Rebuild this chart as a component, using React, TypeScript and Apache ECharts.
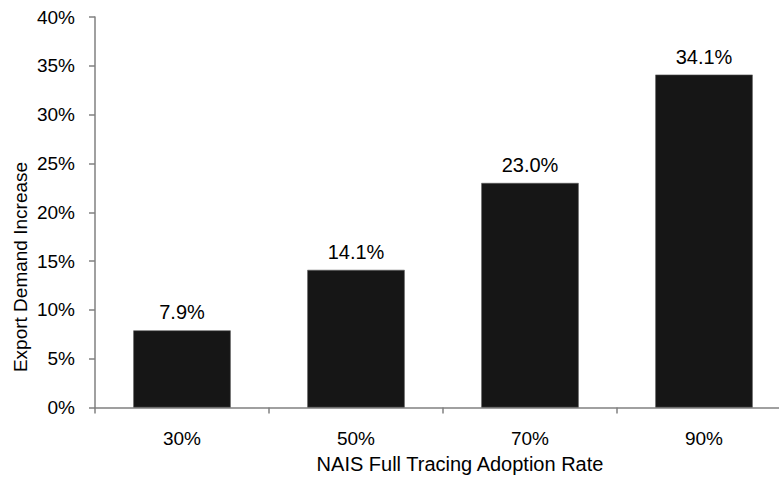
import React, { useEffect, useRef } from "react";
import * as echarts from "echarts";

const categories = ["30%", "50%", "70%", "90%"];
const values = [7.9, 14.1, 23.0, 34.1];
const yTicks = { min: 0, max: 40, interval: 5 };
const xAxisTitle = "NAIS Full Tracing Adoption Rate";
const yAxisTitle = "Export Demand Increase";

const FONT = "'Liberation Sans', Arial, sans-serif";

export default function App() {
  const ref = useRef<HTMLDivElement>(null);
  useEffect(() => {
    if (!ref.current) return;
    const chart = echarts.init(ref.current, undefined, { renderer: "svg" });
    chart.setOption({
      animation: false,
      backgroundColor: "#ffffff",
      grid: { left: 95, right: 9, top: 17, bottom: 70.5, containLabel: false },
      xAxis: {
        type: "category",
        data: categories,
        axisLine: { lineStyle: { color: "#808080", width: 1.5 } },
        axisTick: { show: true, length: 6, lineStyle: { color: "#808080", width: 1.5 } },
        axisLabel: { color: "#000", fontSize: 19, fontFamily: FONT, margin: 21 },
      },
      yAxis: {
        type: "value",
        min: yTicks.min,
        max: yTicks.max,
        interval: yTicks.interval,
        axisLine: { show: true, lineStyle: { color: "#808080", width: 1.5 } },
        axisTick: { show: true, length: 6, lineStyle: { color: "#808080", width: 1.5 } },
        splitLine: { show: false },
        axisLabel: {
          color: "#000",
          fontSize: 19,
          fontFamily: FONT,
          margin: 20,
          formatter: "{value}%",
        },
      },
      graphic: [
        {
          type: "text",
          x: 460,
          y: 464,
          style: {
            text: xAxisTitle,
            fill: "#000",
            font: `20px ${FONT}`,
            textAlign: "center",
            textVerticalAlign: "middle",
          },
        },
        {
          type: "text",
          x: 20,
          y: 267,
          rotation: Math.PI / 2,
          style: {
            text: yAxisTitle,
            fill: "#000",
            font: `19px ${FONT}`,
            textAlign: "center",
            textVerticalAlign: "middle",
          },
        },
      ],
      series: [
        {
          type: "bar",
          data: values,
          barCategoryGap: "44%",
          itemStyle: { color: "#161616", borderColor: "#5a5a5a", borderWidth: 0.6 },
          label: {
            show: true,
            position: "top",
            distance: 8,
            color: "#000",
            fontSize: 20,
            fontFamily: FONT,
            formatter: (p: any) => p.value.toFixed(1) + "%",
          },
        },
      ],
    });
    return () => chart.dispose();
  }, []);
  return (
    <div
      style={{
        position: "absolute",
        left: 0,
        top: 0,
        width: 779,
        height: 478,
        overflow: "hidden",
      }}
    >
      <div ref={ref} style={{ width: 800, height: 478 }} />
    </div>
  );
}
